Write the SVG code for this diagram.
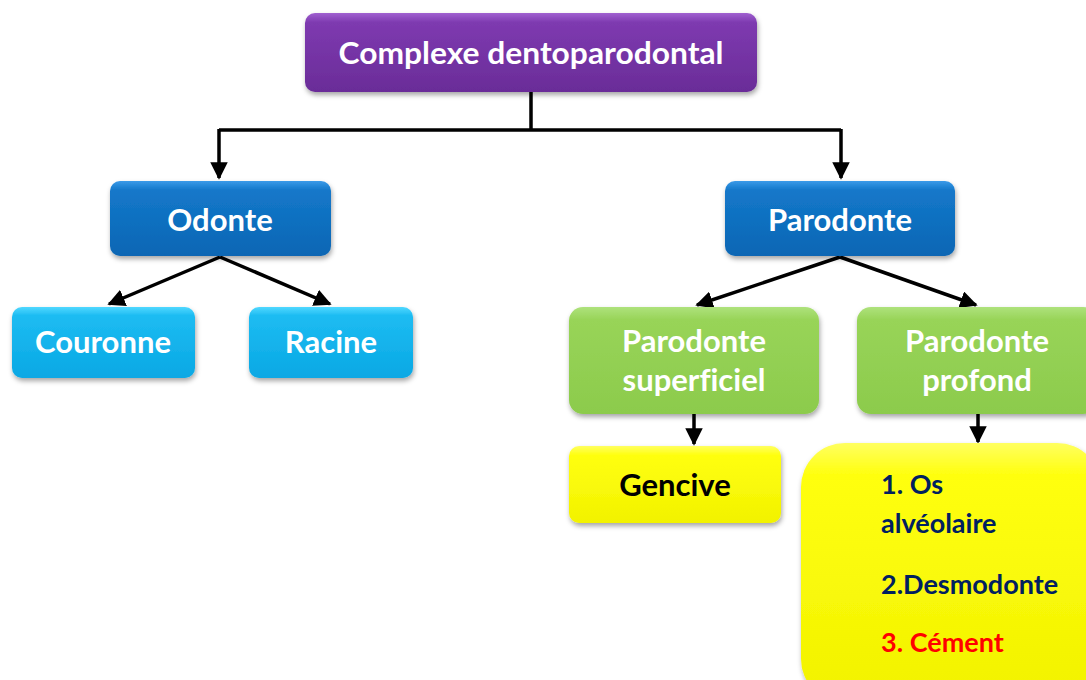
<svg xmlns="http://www.w3.org/2000/svg" width="1086" height="680" viewBox="0 0 1086 680">
<defs>
<linearGradient id="gPurple" x1="0" y1="0" x2="0" y2="1"><stop offset="0" stop-color="#A060D0"/><stop offset="0.12" stop-color="#7E3AB0"/><stop offset="1" stop-color="#6A2C98"/></linearGradient>
<linearGradient id="gBlue" x1="0" y1="0" x2="0" y2="1"><stop offset="0" stop-color="#3A9AE8"/><stop offset="0.12" stop-color="#1478CA"/><stop offset="1" stop-color="#0A66B4"/></linearGradient>
<linearGradient id="gCyan" x1="0" y1="0" x2="0" y2="1"><stop offset="0" stop-color="#50D8FF"/><stop offset="0.12" stop-color="#1EBCF2"/><stop offset="1" stop-color="#08A8E4"/></linearGradient>
<linearGradient id="gGreen" x1="0" y1="0" x2="0" y2="1"><stop offset="0" stop-color="#AEE27C"/><stop offset="0.12" stop-color="#98D458"/><stop offset="1" stop-color="#8CCB4C"/></linearGradient>
<linearGradient id="gYellow" x1="0" y1="0" x2="0" y2="1"><stop offset="0" stop-color="#FFFF60"/><stop offset="0.12" stop-color="#FFFF10"/><stop offset="1" stop-color="#F2F200"/></linearGradient>
<filter id="sh" x="-10%" y="-10%" width="120%" height="130%"><feDropShadow dx="1" dy="3" stdDeviation="2.5" flood-color="#000" flood-opacity="0.35"/></filter>
<marker id="ah" viewBox="0 0 10 10" refX="9" refY="5" markerWidth="5" markerHeight="5" orient="auto" markerUnits="strokeWidth"><path d="M0,0 L10,5 L0,10 z" fill="#000"/></marker>
<style>
.t{font-family:Lato,"Open Sans","Liberation Sans",sans-serif;font-weight:bold;fill:#fff;text-anchor:middle;font-size:31px;font-variant-ligatures:none}
.c{stroke:#000;stroke-width:3.5;fill:none}
.l{font-family:Lato,"Open Sans","Liberation Sans",sans-serif;font-weight:bold;font-size:27px;fill:#002060}
</style>
</defs>
<g id="connectors">
<path class="c" d="M531,92 V130 M219,130 H841"/>
<path class="c" d="M219,129 V178" marker-end="url(#ah)"/>
<path class="c" d="M841,129 V178" marker-end="url(#ah)"/>
<path class="c" d="M220,257 L109,304" marker-end="url(#ah)"/>
<path class="c" d="M220,257 L330,304" marker-end="url(#ah)"/>
<path class="c" d="M840,257 L697,305" marker-end="url(#ah)"/>
<path class="c" d="M840,257 L976,305" marker-end="url(#ah)"/>
<path class="c" d="M694,414 V444" marker-end="url(#ah)"/>
<path class="c" d="M978,414 V442" marker-end="url(#ah)"/>
</g>
<g id="n-complexe"><rect x="305" y="13" width="452" height="79" rx="10" fill="url(#gPurple)" filter="url(#sh)"/><text class="t" x="531" y="64" textLength="385" lengthAdjust="spacingAndGlyphs">Complexe dentoparodontal</text></g>
<g id="n-odonte"><rect x="110" y="181" width="221" height="75" rx="10" fill="url(#gBlue)" filter="url(#sh)"/><text class="t" x="220" y="231">Odonte</text></g>
<g id="n-parodonte"><rect x="725" y="181" width="230" height="75" rx="10" fill="url(#gBlue)" filter="url(#sh)"/><text class="t" x="840" y="231">Parodonte</text></g>
<g id="n-couronne"><rect x="12" y="307" width="183" height="71" rx="10" fill="url(#gCyan)" filter="url(#sh)"/><text class="t" x="103" y="353">Couronne</text></g>
<g id="n-racine"><rect x="249" y="307" width="164" height="71" rx="10" fill="url(#gCyan)" filter="url(#sh)"/><text class="t" x="331" y="353">Racine</text></g>
<g id="n-superficiel"><rect x="569" y="307" width="250" height="107" rx="14" fill="url(#gGreen)" filter="url(#sh)"/><text class="t" x="694" y="352">Parodonte</text><text class="t" x="694" y="391">superficiel</text></g>
<g id="n-profond"><rect x="857" y="307" width="240" height="107" rx="14" fill="url(#gGreen)" filter="url(#sh)"/><text class="t" x="977" y="352">Parodonte</text><text class="t" x="977" y="391">profond</text></g>
<g id="n-gencive"><rect x="569" y="446" width="212" height="77" rx="10" fill="url(#gYellow)" filter="url(#sh)"/><text class="t" x="675" y="496" style="fill:#000">Gencive</text></g>
<g id="n-list"><rect x="801" y="443" width="300" height="260" rx="44" fill="url(#gYellow)" filter="url(#sh)"/>
<text class="l" x="881" y="494">1. Os</text>
<text class="l" x="881" y="533">alvéolaire</text>
<text class="l" x="881" y="594">2.Desmodonte</text>
<text class="l" x="881" y="652" style="fill:#FF0000">3. Cément</text>
</g>
</svg>
